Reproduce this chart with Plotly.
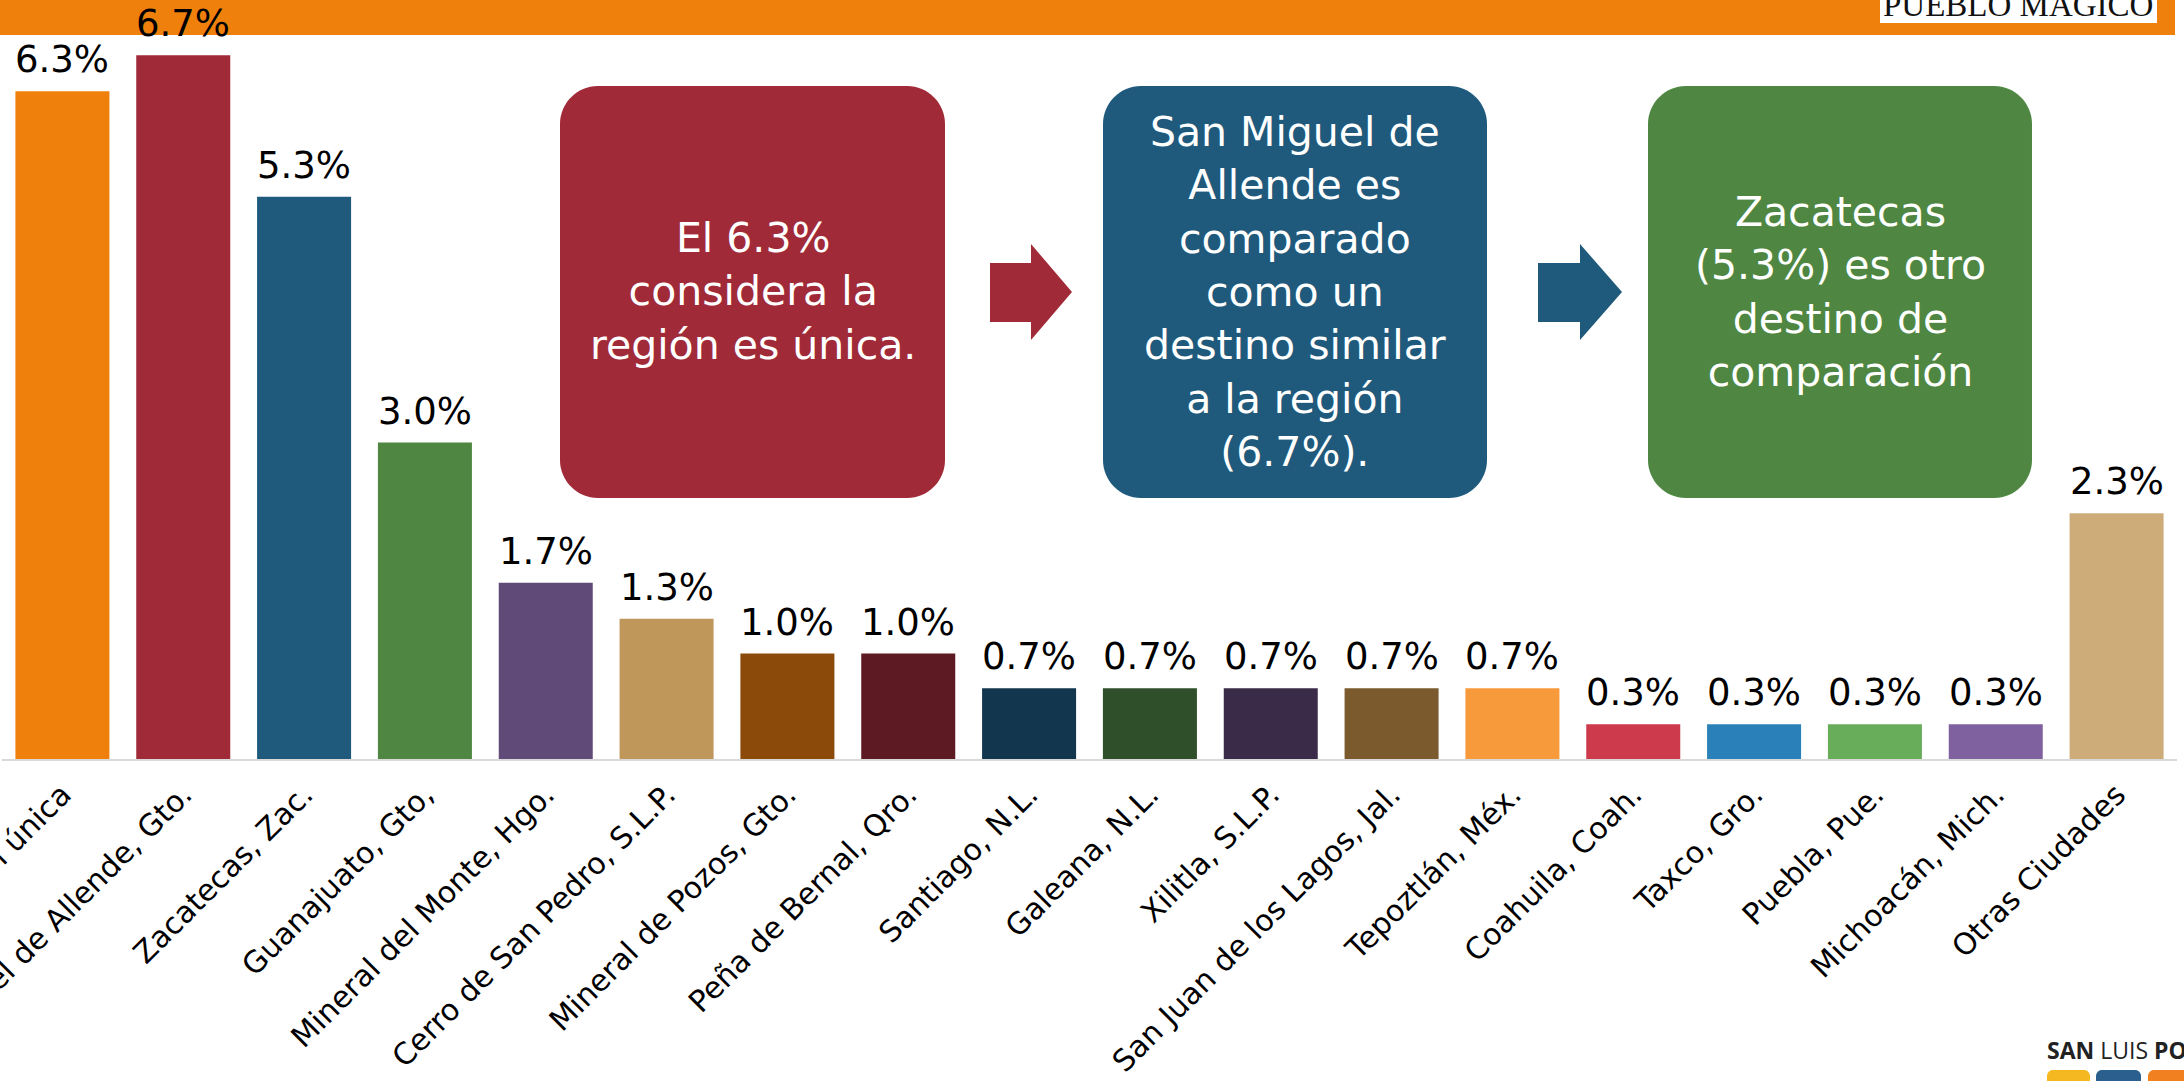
import plotly.graph_objects as go

categories = ["Región única", "San Miguel de Allende, Gto.", "Zacatecas, Zac.", "Guanajuato, Gto,",
              "Mineral del Monte, Hgo.", "Cerro de San Pedro, S.L.P.", "Mineral de Pozos, Gto.",
              "Peña de Bernal, Qro.", "Santiago, N.L.", "Galeana, N.L.", "Xilitla, S.L.P.",
              "San Juan de los Lagos, Jal.", "Tepoztlán, Méx.", "Coahuila, Coah.", "Taxco, Gro.",
              "Puebla, Pue.", "Michoacán, Mich.", "Otras Ciudades"]
values = [6.33, 6.67, 5.33, 3.0, 1.67, 1.33, 1.0, 1.0, 0.67, 0.67, 0.67, 0.67, 0.67,
          0.33, 0.33, 0.33, 0.33, 2.33]
colors = ["#F0800C", "#A12A38", "#1F5A7C", "#4F8742", "#5F4A78", "#C0975A", "#8B4A0A",
          "#5E1A22", "#12364E", "#2E4F2A", "#3A2C48", "#7B5B2E", "#F79A3B", "#CC3A4B",
          "#2A80B8", "#68AD5A", "#8061A0", "#CDAC7A"]
labels = [f"{v:.1f}%" for v in values]

box_texts = ["El 6.3%<br>considera la<br>región es única.",
             "San Miguel de<br>Allende es<br>comparado<br>como un<br>destino similar<br>a la región<br>(6.7%).",
             "Zacatecas<br>(5.3%) es otro<br>destino de<br>comparación"]
box_colors = ["#A12A38", "#1F5A7C", "#4F8742"]

W, H = 2184, 1081
ML, MR, MT, MB = 2, 7, 0, 322
PW, PH = W - ML - MR, H - MT - MB
FONT = "DejaVu Sans"


def X(px):
    return (px - ML) / PW


def Y(py):
    return (MT + PH - py) / PH


def path(points):
    return "M " + " L ".join(f"{X(a):.5f},{Y(b):.5f}" for a, b in points) + " Z"


def rrect(x0, y0, x1, y1, r):
    k = 0.5523 * r
    def p(a, b):
        return f"{X(a):.5f},{Y(b):.5f}"
    return (f"M {p(x0 + r, y0)} L {p(x1 - r, y0)} C {p(x1 - r + k, y0)} {p(x1, y0 + r - k)} {p(x1, y0 + r)} "
            f"L {p(x1, y1 - r)} C {p(x1, y1 - r + k)} {p(x1 - r + k, y1)} {p(x1 - r, y1)} "
            f"L {p(x0 + r, y1)} C {p(x0 + r - k, y1)} {p(x0, y1 - r + k)} {p(x0, y1 - r)} "
            f"L {p(x0, y0 + r)} C {p(x0, y0 + r - k)} {p(x0 + r - k, y0)} {p(x0 + r, y0)} Z")


fig = go.Figure(go.Bar(
    x=categories, y=values, marker=dict(color=colors, line=dict(width=0)),
    hoverinfo="skip",
))

shapes = []
# orange banner and logo box
shapes.append(dict(type="rect", xref="paper", yref="paper", x0=X(-5), x1=X(2175), y0=Y(35), y1=Y(-5),
                   fillcolor="#F0800C", line=dict(width=0), layer="below"))
shapes.append(dict(type="rect", xref="paper", yref="paper", x0=X(1880), x1=X(2157), y0=Y(23), y1=Y(-5),
                   fillcolor="#FFFFFF", line=dict(width=0), layer="below"))
# boxes
box_x = [(560, 945), (1103, 1487), (1648, 2032)]
for (x0, x1), c in zip(box_x, box_colors):
    shapes.append(dict(type="path", xref="paper", yref="paper", path=rrect(x0, 86, x1, 498, 38),
                       fillcolor=c, line=dict(width=0), layer="above"))
# arrows
for xs, c in [((990, 1031, 1072), "#A12A38"), ((1538, 1580, 1622), "#1F5A7C")]:
    a, b, t = xs
    shapes.append(dict(type="path", xref="paper", yref="paper",
                       path=path([(a, 263), (b, 263), (b, 244), (t, 292), (b, 340), (b, 322), (a, 322)]),
                       fillcolor=c, line=dict(width=0), layer="above"))
# San Luis Potosí squares
for x0, x1, c in [(2047, 2090, "#F5B820"), (2096, 2141, "#2B5F8E"), (2148, 2192, "#F08020")]:
    shapes.append(dict(type="path", xref="paper", yref="paper", path=rrect(x0, 1070, x1, 1100, 6),
                       fillcolor=c, line=dict(width=0), layer="above"))

annotations = []
# value labels above bars
for cat, v, lab in zip(categories, values, labels):
    annotations.append(dict(xref="x", yref="y", x=cat, y=v, text=lab, showarrow=False,
                            xanchor="center", yanchor="bottom", yshift=8,
                            font=dict(family=FONT, size=37, color="#000000")))
for (x0, x1), t in zip(box_x, box_texts):
    annotations.append(dict(xref="paper", yref="paper", x=X((x0 + x1) / 2), y=Y(292), text=t,
                            showarrow=False, xanchor="center", yanchor="middle", align="center",
                            font=dict(family=FONT, size=41, color="#FFFFFF")))
annotations.append(dict(xref="paper", yref="paper", x=X(2018), y=Y(25), text="PUEBLO MÁGICO",
                        showarrow=False, xanchor="center", yanchor="bottom",
                        font=dict(family="Liberation Serif", size=33, color="#111111")))
annotations.append(dict(xref="paper", yref="paper", x=X(2045), y=Y(1050), text="<b>SAN</b> LUIS <b>POTOSÍ</b>",
                        showarrow=False, xanchor="left", yanchor="middle",
                        font=dict(family="Open Sans", size=23, color="#222222")))

fig.update_layout(
    width=W, height=H, margin=dict(l=ML, r=MR, t=MT, b=MB, pad=0, autoexpand=False),
    paper_bgcolor="#FFFFFF", plot_bgcolor="rgba(0,0,0,0)",
    bargap=0.222, showlegend=False, shapes=shapes, annotations=annotations,
    xaxis=dict(type="category", tickangle=-45, showline=True, linecolor="#D9D9D9", linewidth=2,
               showgrid=False, ticks="", tickfont=dict(family=FONT, size=30, color="#000000"),
               automargin=False, ticklabelstandoff=4, fixedrange=True),
    yaxis=dict(range=[0, PH / 105.5], visible=False, showgrid=False, zeroline=False, fixedrange=True,
               automargin=False),
)

fig.write_html("out.html", config={"displayModeBar": False},
               post_script="document.body.style.margin='0';document.body.style.overflow='hidden';")
